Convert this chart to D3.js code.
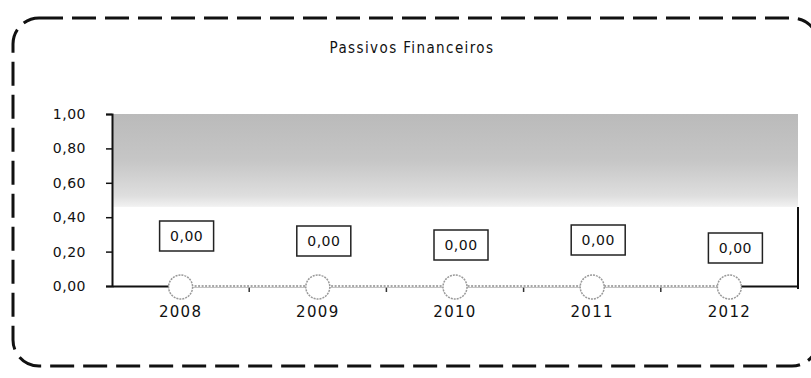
<!DOCTYPE html>
<html>
<head>
<meta charset="utf-8">
<script src="https://cdn.jsdelivr.net/npm/d3@7"></script>
<style>
  html, body { margin: 0; padding: 0; background: #fff; }
  svg { display: block; }
</style>
</head>
<body>
<svg id="chart" width="811" height="378"></svg>
<script>
const title = "Passivos Financeiros";
const categories = ["2008", "2009", "2010", "2011", "2012"];
const values = [0, 0, 0, 0, 0];
const yTicks = [0, 0.2, 0.4, 0.6, 0.8, 1.0];

const fmt = v => d3.format(".2f")(v).replace(".", ",");

const W = 811, H = 378;
const svg = d3.select("#chart");
const margin = { left: 112, right: 13, top: 114, bottom: 92 };
const x = d3.scaleBand().domain(categories).range([margin.left, W - margin.right]).padding(0);
const y = d3.scaleLinear().domain([0, 1]).range([H - margin.bottom, margin.top]);

// outer dashed rounded border
svg.append("rect")
  .attr("x", 13).attr("y", 18).attr("width", 805).attr("height", 348)
  .attr("rx", 26).attr("ry", 26)
  .attr("fill", "none").attr("stroke", "#111").attr("stroke-width", 3)
  .attr("stroke-dasharray", "24,9");

// title
svg.append("text")
  .attr("x", 412).attr("y", 53)
  .attr("text-anchor", "middle")
  .attr("font-family", "DejaVu Sans Condensed, DejaVu Sans")
  .attr("font-size", 15)
  .attr("letter-spacing", 1.4)
  .attr("fill", "#111")
  .text(title);

// plot area gradient wall
const defs = svg.append("defs");
const grad = defs.append("linearGradient").attr("id", "wall").attr("x1", 0).attr("y1", 0).attr("x2", 0).attr("y2", 1);
grad.append("stop").attr("offset", "0%").attr("stop-color", "#bababa");
grad.append("stop").attr("offset", "50%").attr("stop-color", "#c6c6c6");
grad.append("stop").attr("offset", "88%").attr("stop-color", "#dedede");
grad.append("stop").attr("offset", "100%").attr("stop-color", "#f2f2f2");

const x0 = x.range()[0], x1 = x.range()[1];
svg.append("rect")
  .attr("x", x0).attr("y", y(1))
  .attr("width", x1 - x0).attr("height", y(0.46) - y(1))
  .attr("fill", "url(#wall)");

// right border of plot area below wall
svg.append("line")
  .attr("x1", x1).attr("x2", x1).attr("y1", y(0.46)).attr("y2", y(0) + 3)
  .attr("stroke", "#111").attr("stroke-width", 2);

// y axis
const yAxis = d3.axisLeft(y).tickValues(yTicks).tickFormat(fmt).tickSize(6).tickPadding(20);
const gy = svg.append("g").attr("transform", `translate(${x0},0)`).call(yAxis);
gy.select(".domain").attr("stroke", "#111").attr("stroke-width", 2);
gy.selectAll(".tick line").attr("stroke", "#111").attr("stroke-width", 1.5);
gy.selectAll(".tick text")
  .attr("font-family", "DejaVu Sans").attr("font-size", 14)
  .attr("letter-spacing", 0.5).attr("fill", "#111");

// x axis
const xAxis = d3.axisBottom(x).tickSize(0).tickPadding(20);
const gx = svg.append("g").attr("transform", `translate(0,${y(0)})`).call(xAxis);
gx.select(".domain").attr("stroke", "#111").attr("stroke-width", 2);
gx.selectAll(".tick text")
  .attr("font-family", "DejaVu Sans").attr("font-size", 15)
  .attr("letter-spacing", 1.3).attr("fill", "#111");

// x boundary ticks
svg.append("g").selectAll("line")
  .data(categories.slice(1))
  .join("line")
  .attr("x1", d => x(d)).attr("x2", d => x(d))
  .attr("y1", y(0)).attr("y2", y(0) + 6)
  .attr("stroke", "#333").attr("stroke-width", 1.5);

// series line (dotted, over axis)
const line = d3.line().x((d, i) => x(categories[i]) + x.bandwidth() / 2).y(d => y(d));
svg.append("path").datum(values).attr("d", line)
  .attr("fill", "none").attr("stroke", "#fff").attr("stroke-width", 3);
svg.append("path").datum(values).attr("d", line)
  .attr("fill", "none").attr("stroke", "#8a8a8a").attr("stroke-width", 1.5)
  .attr("stroke-dasharray", "2,1.5");

// markers
svg.append("g").selectAll("circle")
  .data(values)
  .join("circle")
  .attr("cx", (d, i) => x(categories[i]) + x.bandwidth() / 2)
  .attr("cy", d => y(d) + 1)
  .attr("r", 12)
  .attr("fill", "#fff")
  .attr("stroke", "#999").attr("stroke-width", 1.5)
  .attr("stroke-dasharray", "2,1");

// data labels (boxes at staggered heights)
const labelLift = [50, 45, 41, 46, 38];
const lg = svg.append("g").selectAll("g")
  .data(values)
  .join("g")
  .attr("transform", (d, i) => `translate(${x(categories[i]) + x.bandwidth() / 2 + 6},${y(d) - labelLift[i]})`);
lg.append("rect")
  .attr("x", -27).attr("y", -15).attr("width", 54).attr("height", 30)
  .attr("fill", "#fff").attr("stroke", "#222").attr("stroke-width", 1.5);
lg.append("text")
  .attr("text-anchor", "middle").attr("dy", "0.35em")
  .attr("font-family", "DejaVu Sans").attr("font-size", 14)
  .attr("letter-spacing", 0.5).attr("fill", "#111")
  .text(d => fmt(d));
</script>
</body>
</html>
